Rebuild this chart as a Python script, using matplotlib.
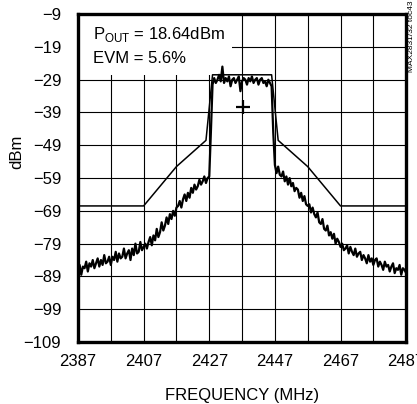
import numpy as np
import matplotlib
matplotlib.use("Agg")
import matplotlib.pyplot as plt
from matplotlib.patches import Rectangle

plt.rcParams['font.family'] = ['Liberation Sans Narrow', 'Liberation Sans', 'DejaVu Sans']
plt.rcParams['mathtext.fontset'] = 'custom'
plt.rcParams['mathtext.rm'] = 'Liberation Sans'

# measured spectrum, 0.5 MHz steps from 2387 to 2487 MHz
f_start, f_stop = 2387, 2487
level = [
    # 2387 - 2407
    -87, -85.5, -88.5, -86, -86.5, -84.5, -87.5, -85, -86, -84,
    -86.5, -85, -83.5, -86, -84, -85.5, -82.5, -85, -84.5, -83,
    -85.5, -83, -84, -81.5, -84.5, -82, -83.5, -83, -80.5, -83.5,
    -82, -81, -84, -80.5, -82.5, -79, -82, -81.5, -78.5, -81,
    -80,
    # 2407.5 - 2417
    -79, -80.5, -78.5, -77, -79.5, -76.5, -78, -74.5, -77, -75.5,
    -72.5, -75, -73.5, -71, -73, -70, -71.5, -69, -70.5, -68,
    # 2417.5 - 2427
    -67.5, -66, -68, -65.5, -64, -66, -63.5, -65, -62, -63.5,
    -61, -62.5, -61.5, -59.5, -61, -60, -58.5, -60.5, -59, -58.5,
    # 2427.5
    -45,
    # 2428 - 2446 in-band
    -30.5, -28.5, -30, -29, -27.5, -29.5, -25, -30, -28.5, -29.5,
    -28, -31, -29, -28.5, -30, -29, -28, -32.5, -29.5, -28.5,
    -29, -30.5, -28.5, -29.5, -28, -30, -29, -28.5, -30.5, -29,
    -28.5, -30, -29.5, -31, -29, -30, -31,
    # 2446.5, 2447
    -45, -55,
    # 2447.5 - 2457
    -57.5, -55.5, -58, -58.5, -57, -60, -58.5, -61, -59, -61.5,
    -60.5, -63, -62, -62.5, -65, -63.5, -66, -64.5, -67, -67.5,
    # 2457.5 - 2467
    -67, -69.5, -68, -70, -71, -69.5, -72.5, -73, -71.5, -74.5,
    -75, -73.5, -76.5, -75.5, -77.5, -76, -79, -77.5, -78.5, -80,
    # 2467.5 - 2487
    -79, -81, -80.5, -79.5, -82, -80, -81.5, -82.5, -80.5, -83,
    -82, -81.5, -84, -82.5, -83.5, -85, -82.5, -84.5, -83.5, -85.5,
    -84, -83.5, -86, -84.5, -85.5, -87, -84.5, -86, -85.5, -87.5,
    -86, -85, -88, -86.5, -87, -85.5, -88.5, -86.5, -87, -88,
]
freq = np.linspace(f_start, f_stop, len(level))

# spectral mask
mask_freq = [2387, 2407, 2417, 2426, 2428, 2446, 2448, 2457, 2467, 2487]
mask_level = [-67.5, -67.5, -55.5, -47.5, -27.5, -27.5, -47.5, -55.5, -67.5, -67.5]

# marker
marker_freq = 2437.2
marker_level = -37.3

xticks = [2387, 2407, 2427, 2447, 2467, 2487]
yticks = [-9, -19, -29, -39, -49, -59, -69, -79, -89, -99, -109]

fig = plt.figure(figsize=(4.17, 4.04), dpi=100)
ax = fig.add_axes([0.187, 0.1535, 0.787, 0.8115])

ax.plot(mask_freq, mask_level, color='black', lw=1.1, zorder=4)
ax.plot(freq, level, color='black', lw=1.6, zorder=5)
ax.plot([marker_freq], [marker_level], marker='+', ms=10, mew=1.6, color='black', zorder=6)

ax.set_xlim(f_start, f_stop)
ax.set_ylim(-109, -9)
ax.set_xticks(np.arange(2387, 2488, 10), minor=True)
ax.set_xticks(xticks)
ax.set_yticks(yticks)
ax.grid(True, which='both', axis='x', color='black', lw=0.8, zorder=1)
ax.grid(True, which='major', axis='y', color='black', lw=0.8, zorder=1)
ax.set_axisbelow(True)
ax.tick_params(which='both', length=0, labelsize=12)
ax.tick_params(axis='y', pad=12)
ax.tick_params(axis='x', pad=9)
for s in ax.spines.values():
    s.set_linewidth(2.4)
    s.set_zorder(7)

ax.set_xlabel('FREQUENCY (MHz)', fontsize=12, labelpad=13)
ax.set_ylabel('dBm', fontsize=12)
ax.yaxis.set_label_coords(-0.165, 0.58)

# white annotation box over the grid
ax.add_patch(Rectangle((0, 0.814), 0.47, 0.186, transform=ax.transAxes,
                       facecolor='white', edgecolor='none', zorder=2))
ax.text(0.045, 0.937, r'P$_{\mathrm{OUT}}$ = 18.64dBm', transform=ax.transAxes,
        fontsize=12, va='center', ha='left', zorder=3)
ax.text(0.045, 0.865, 'EVM = 5.6%', transform=ax.transAxes,
        fontsize=12, va='center', ha='left', zorder=3)

fig.text(0.986, 0.998, 'MAX2831/32 toc43', rotation=90, fontsize=6,
         ha='center', va='top')

fig.savefig('out.png', dpi=100)
